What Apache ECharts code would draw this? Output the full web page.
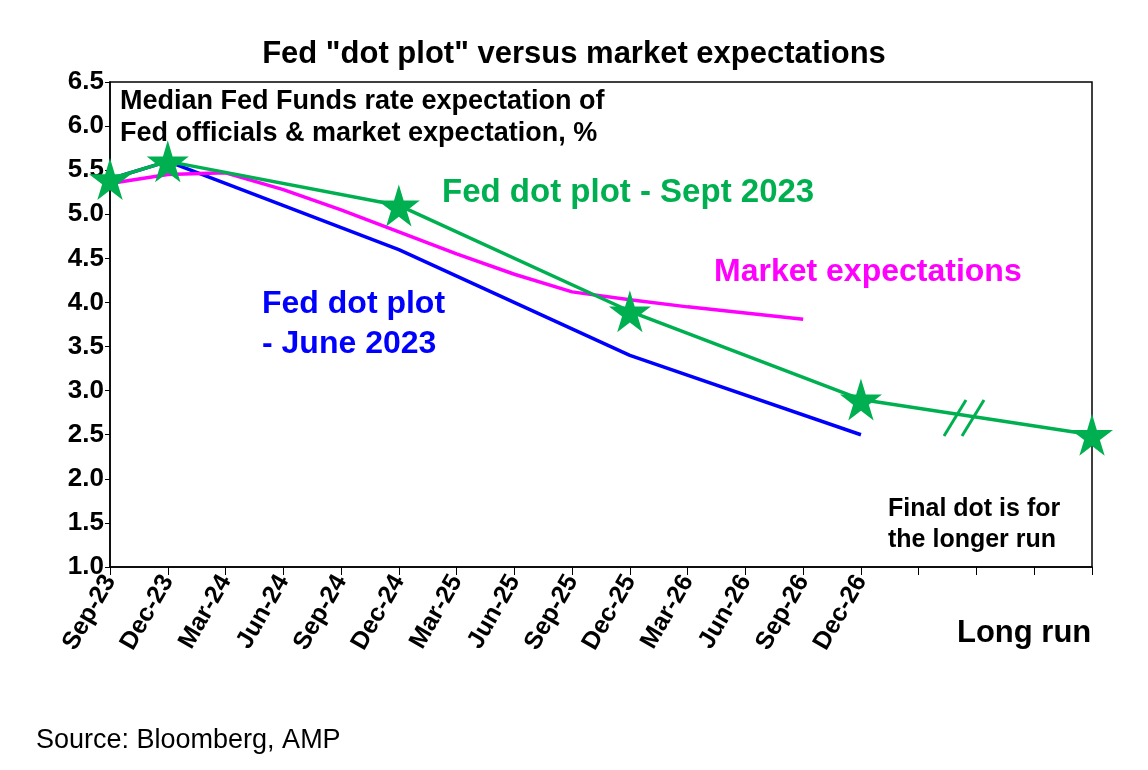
<!DOCTYPE html>
<html>
<head>
<meta charset="utf-8">
<script src="https://cdn.jsdelivr.net/npm/echarts@6/dist/echarts.min.js"></script>
<style>html,body{margin:0;padding:0;background:#fff}#chart{width:1148px;height:770px}</style>
</head>
<body>
<div id="chart"></div>
<script>
// categories: quarterly, blank slots, then "Long run" (drawn as separate text)
var categories = ['Sep-23','Dec-23','Mar-24','Jun-24','Sep-24','Dec-24','Mar-25','Jun-25','Sep-25','Dec-25','Mar-26','Jun-26','Sep-26','Dec-26','','','','Long run'];
var fedSept = [5.4,5.6,null,null,null,5.1,null,null,null,3.9,null,null,null,2.9,null,null,null,2.5];
var fedJune = [5.4,5.6,null,null,null,4.6,null,null,null,3.4,null,null,null,2.5,null,null,null,null];
var market = [5.35,5.45,5.47,5.28,5.05,4.8,4.55,4.32,4.12,4.03,3.95,3.88,3.81,null,null,null,null,null];

var star = 'path://M50,0 L61,35 L98,35 L68,57 L79,91 L50,70 L21,91 L32,57 L2,35 L39,35 Z';
var font = 'Liberation Sans, Arial, sans-serif';

var myChart = echarts.init(document.getElementById('chart'));
var option = {
    animation: false,
    title: {
        text: 'Fed "dot plot" versus market expectations',
        left: 'center', top: 34,
        textStyle: {fontFamily: font, fontSize: 31, fontWeight: 'bold', color: '#000'}
    },
    grid: {left: 110, right: 56, top: 82, bottom: 203, show: true, borderColor: '#000', borderWidth: 1.5},
    xAxis: {
        type: 'category', data: categories, boundaryGap: false,
        axisLine: {lineStyle: {color: '#000', width: 1.5}},
        axisTick: {show: true, interval: 0, length: 8, lineStyle: {color: '#000'}},
        axisLabel: {
            interval: 0, rotate: 60, margin: 10,
            fontFamily: font, fontSize: 25, fontWeight: 'bold', color: '#000',
            formatter: function (v) { return v === 'Long run' ? '' : v; }
        },
        splitLine: {show: false}
    },
    yAxis: {
        type: 'value', min: 1, max: 6.5, interval: 0.5,
        axisLine: {show: true, lineStyle: {color: '#000', width: 1.5}},
        axisTick: {show: true, lineStyle: {color: '#000'}},
        axisLabel: {fontFamily: font, fontSize: 26, fontWeight: 'bold', color: '#000', margin: 6,
            formatter: function (v) { return v.toFixed(1); }},
        splitLine: {show: false}
    },
    series: [
        {name: 'Fed dot plot - June 2023', type: 'line', data: fedJune, connectNulls: true,
         showSymbol: false, lineStyle: {color: '#0000FF', width: 3.5}, z: 2},
        {name: 'Market expectations', type: 'line', data: market, connectNulls: true,
         showSymbol: false, lineStyle: {color: '#FF00FF', width: 3.5}, z: 3},
        {name: 'Fed dot plot - Sept 2023', type: 'line', data: fedSept, connectNulls: true,
         symbol: star, symbolSize: 42, showSymbol: true,
         itemStyle: {color: '#00B050'}, lineStyle: {color: '#00B050', width: 3.5}, z: 4}
    ],
    graphic: [
        {type: 'text', left: 120, top: 86, style: {text: 'Median Fed Funds rate expectation of\nFed officials & market expectation, %',
            font: 'bold 27px ' + font, fill: '#000', lineHeight: 32}},
        {type: 'text', left: 442, top: 176, style: {text: 'Fed dot plot - Sept 2023', font: 'bold 33px ' + font, fill: '#00B050'}},
        {type: 'text', left: 714, top: 256, style: {text: 'Market expectations', font: 'bold 32px ' + font, fill: '#FF00FF'}},
        {type: 'text', left: 262, top: 284, style: {text: 'Fed dot plot\n- June 2023', font: 'bold 32px ' + font, fill: '#0000FF', lineHeight: 40}},
        {type: 'text', left: 888, top: 494, style: {text: 'Final dot is for\nthe longer run', font: 'bold 25px ' + font, fill: '#000', lineHeight: 31}},
        {type: 'text', left: 957, top: 618, style: {text: 'Long run', font: 'bold 31px ' + font, fill: '#000'}},
        {type: 'text', left: 36, top: 727, style: {text: 'Source: Bloomberg, AMP', font: '27px ' + font, fill: '#000'}},
        {type: 'line', shape: {x1: 944, y1: 436, x2: 966, y2: 400}, style: {stroke: '#00B050', lineWidth: 3}},
        {type: 'line', shape: {x1: 962, y1: 436, x2: 984, y2: 400}, style: {stroke: '#00B050', lineWidth: 3}}
    ]
};
myChart.setOption(option);
</script>
</body>
</html>
